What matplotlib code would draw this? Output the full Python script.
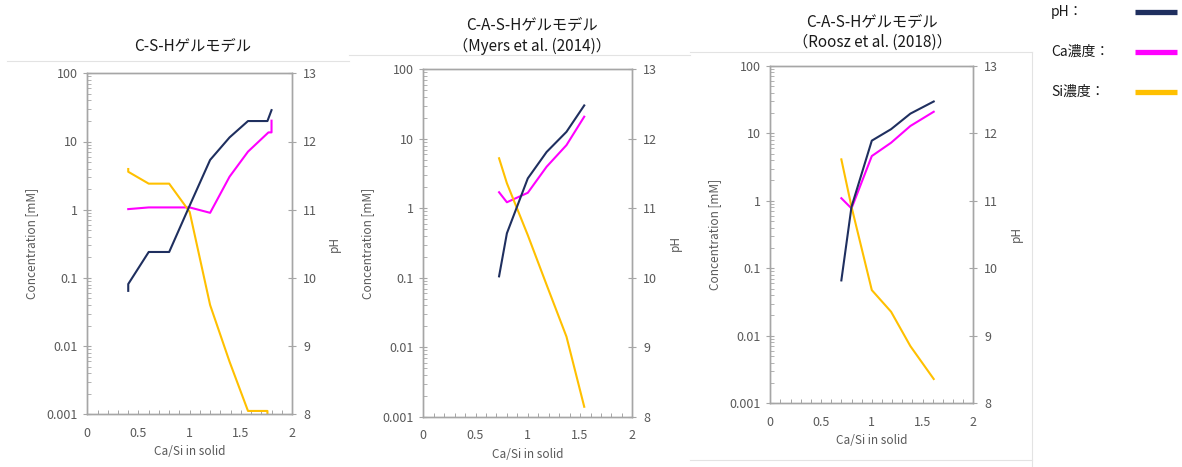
import matplotlib
matplotlib.use("Agg")
import matplotlib.pyplot as plt
from matplotlib.lines import Line2D
from matplotlib.ticker import FixedLocator, NullFormatter, LogLocator
import numpy as np

plt.rcParams['font.family'] = ['Noto Sans CJK JP', 'DejaVu Sans']

W, H = 1182, 467

NAVY = "#1F2F5F"
MAGENTA = "#FF00FF"
GOLD = "#FFC000"
GRAY_TXT = "#595959"
SPINE = "#A6A6A6"

# --- C-S-H gel model ---
csh_x_ph = [0.4, 0.4, 0.6, 0.8, 1.0, 1.2, 1.39, 1.57, 1.76, 1.8]
csh_ph = [9.81, 9.91, 10.38, 10.38, 11.06, 11.73, 12.06, 12.30, 12.30, 12.46]
csh_x_ca = [0.4, 0.6, 0.8, 1.0, 1.2, 1.39, 1.57, 1.77, 1.8, 1.8]
csh_ca = [1.02, 1.08, 1.08, 1.08, 0.90, 3.05, 7.1, 13.6, 13.6, 20.2]
csh_x_si = [0.4, 0.4, 0.6, 0.8, 1.0, 1.2, 1.39, 1.57, 1.76, 1.76]
csh_si = [3.95, 3.6, 2.41, 2.41, 0.93, 0.040, 0.0059, 0.00112, 0.00112, 0.0008]

# --- C-A-S-H gel model (Myers et al. 2014) ---
myers_x = [0.725, 0.80, 1.0, 1.18, 1.37, 1.54]
myers_ph = [10.02, 10.64, 11.43, 11.81, 12.10, 12.48]
myers_ca = [1.70, 1.22, 1.67, 3.96, 8.1, 20.8]
myers_si = [5.24, 2.29, 0.41, 0.079, 0.0142, 0.00139]

# --- C-A-S-H gel model (Roosz et al. 2018) ---
roosz_x = [0.70, 0.80, 1.0, 1.19, 1.38, 1.61]
roosz_ph = [9.82, 10.91, 11.89, 12.06, 12.29, 12.47]
roosz_ca = [1.09, 0.77, 4.59, 7.23, 12.8, 20.8]
roosz_si = [4.10, 0.815, 0.0475, 0.0227, 0.00703, 0.00229]

conc_ticks = [0.001, 0.01, 0.1, 1, 10, 100]
conc_labels = ["0.001", "0.01", "0.1", "1", "10", "100"]
ph_ticks = [8, 9, 10, 11, 12, 13]
x_ticks = [0, 0.5, 1, 1.5, 2]
x_labels = ["0", "0.5", "1", "1.5", "2"]

legend_labels = ["pH：", "Ca濃度：", "Si濃度："]
legend_colors = [NAVY, MAGENTA, GOLD]


def fx(x):
    return x / W


def fy(y):
    return 1 - y / H


def draw_panel(fig, box, xph, ph, xca, ca, xsi, si, title_lines, title_cx, title_ys):
    left, top, right, bottom = box
    ax = fig.add_axes([fx(left), fy(bottom), fx(right - left), (bottom - top) / H])
    ax.set_yscale("log")
    ax.set_ylim(0.001, 100)
    ax.set_xlim(0, 2)
    ax.plot(xca, ca, color=MAGENTA, lw=1.5, clip_on=True)
    ax.plot(xsi, si, color=GOLD, lw=1.5, clip_on=True)

    ax.yaxis.set_major_locator(FixedLocator(conc_ticks))
    ax.set_yticklabels(conc_labels)
    ax.yaxis.set_minor_locator(LogLocator(base=10, subs=np.arange(2, 10)))
    ax.yaxis.set_minor_formatter(NullFormatter())
    ax.set_xticks(x_ticks)
    ax.set_xticklabels(x_labels)
    ax.xaxis.set_minor_locator(FixedLocator(np.arange(0.1, 2.0, 0.1)))

    ax.tick_params(axis="y", which="major", direction="inout", length=6, width=0.8,
                   color=SPINE, labelcolor=GRAY_TXT, labelsize=9, pad=4)
    ax.tick_params(axis="y", which="minor", direction="in", length=3, width=0.6, color=SPINE)
    ax.tick_params(axis="x", which="both", direction="in", length=3, width=0.7,
                   color=SPINE, labelcolor=GRAY_TXT, labelsize=9, pad=9)
    ax.set_xlabel("Ca/Si in solid", color=GRAY_TXT, fontsize=8.5, labelpad=4)
    ax.set_ylabel("Concentration [mM]", color=GRAY_TXT, fontsize=8.5, labelpad=6)

    ax2 = ax.twinx()
    ax2.set_ylim(8, 13)
    ax2.plot(xph, ph, color=NAVY, lw=1.5)
    ax2.set_yticks(ph_ticks)
    ax2.tick_params(axis="y", which="major", direction="inout", length=6, width=0.8,
                    color=SPINE, labelcolor=GRAY_TXT, labelsize=9, pad=5)
    ax2.set_ylabel("pH", color=GRAY_TXT, fontsize=8.5, labelpad=8)

    for a in (ax, ax2):
        for s in a.spines.values():
            s.set_color(SPINE)
            s.set_linewidth(1.0)

    for line, ty in zip(title_lines, title_ys):
        fig.text(fx(title_cx), fy(ty), line, ha="center", va="center",
                 fontsize=11, color="#1a1a1a")
    return ax


fig = plt.figure(figsize=(W / 100, H / 100), dpi=100)

# faint frames of the three chart areas
frame_segments = [
    ((7, 349), (60.5, 60.5)),
    ((349, 690), (55, 55)),
    ((690, 1032), (52, 52)),
    ((1032, 1032), (52, 467)),
    ((690, 1032), (460, 460)),
]
for xs, ys in frame_segments:
    fig.add_artist(Line2D([fx(v) for v in xs], [fy(v) for v in ys],
                          color="#E3E3E3", lw=0.8))

draw_panel(fig, (87.3, 73.3, 292, 414.3), csh_x_ph, csh_ph, csh_x_ca, csh_ca,
           csh_x_si, csh_si, ["C-S-Hゲルモデル"], 193, [46])
draw_panel(fig, (423.3, 69.3, 632.3, 416.7), myers_x, myers_ph, myers_x, myers_ca,
           myers_x, myers_si, ["C-A-S-Hゲルモデル", "（Myers et al. (2014)）"], 532, [25, 46])
draw_panel(fig, (770.3, 65.7, 973.3, 403.3), roosz_x, roosz_ph, roosz_x, roosz_ca,
           roosz_x, roosz_si, ["C-A-S-Hゲルモデル", "（Roosz et al. (2018)）"], 872, [22, 42])

# legend at the right edge
for i, (lab, col) in enumerate(zip(legend_labels, legend_colors)):
    y = 12 + 40 * i
    fig.text(fx(1051), fy(y), lab, ha="left", va="center", fontsize=10, color="#1a1a1a")
    fig.add_artist(Line2D([fx(1135), fx(1177)], [fy(y), fy(y)], color=col, lw=3.8,
                          solid_capstyle="butt"))

fig.savefig("out.png", dpi=100, facecolor="white")
